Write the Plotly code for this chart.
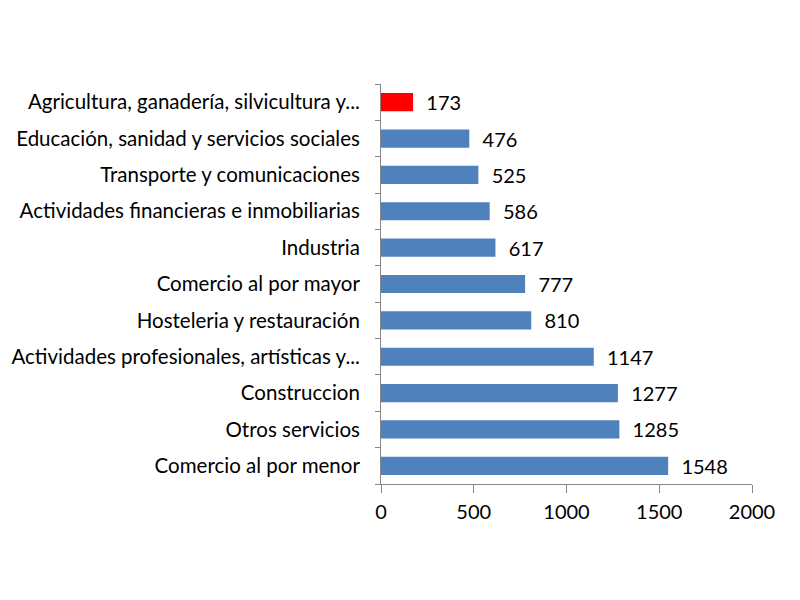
import plotly.graph_objects as go

categories = [
    "Agricultura, ganadería, silvicultura y...",
    "Educación, sanidad y servicios sociales",
    "Transporte y comunicaciones",
    "Actividades financieras e inmobiliarias",
    "Industria",
    "Comercio al por mayor",
    "Hosteleria y restauración",
    "Actividades profesionales, artísticas y...",
    "Construccion",
    "Otros servicios",
    "Comercio al por menor",
]
values = [173, 476, 525, 586, 617, 777, 810, 1147, 1277, 1285, 1548]
bar_colors = ["#FF0000"] + ["#4F81BD"] * 10
x_ticks = [0, 500, 1000, 1500, 2000]

FONT = "Lato"

fig = go.Figure(go.Bar(
    x=values,
    y=categories,
    orientation="h",
    marker=dict(color=bar_colors, line=dict(width=0)),
    text=values,
    texttemplate="  %{text}",
    textposition="outside",
    constraintext="none",
    cliponaxis=False,
    textfont=dict(family=FONT, size=20, color="#000000"),
))

fig.update_layout(
    width=800, height=600,
    margin=dict(l=373, r=56, t=76, b=124, autoexpand=False),
    paper_bgcolor="white", plot_bgcolor="white",
    bargap=0.5,
    showlegend=False,
    font=dict(family=FONT, size=20, color="#000000"),
)
fig.update_xaxes(
    range=[0, 2000], tickvals=x_ticks, ticks="outside", ticklen=8,
    tickcolor="#868686", showline=True, linecolor="#868686", linewidth=1,
    showgrid=False, zeroline=False, tickfont=dict(family=FONT, size=20),
    ticklabelstandoff=2, automargin=False,
)
fig.update_yaxes(
    categoryorder="array", categoryarray=categories[::-1],
    ticks="outside", ticklen=5, tickcolor="#868686", tickson="boundaries",
    showline=True, linecolor="#868686", linewidth=1, showgrid=False,
    ticklabelstandoff=16, tickfont=dict(family=FONT, size=20.5),
    automargin=False,
)

fig.write_html("out.html")
